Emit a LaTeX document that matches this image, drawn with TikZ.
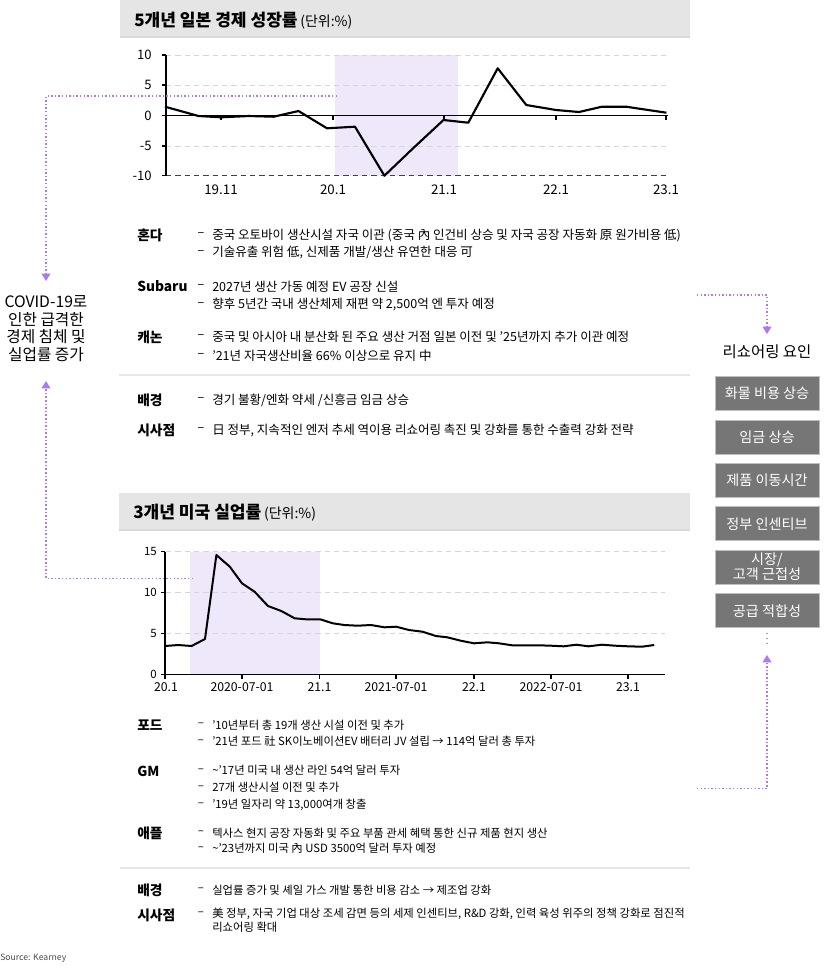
\documentclass[tikz,border=0pt]{standalone}
\usepackage{fontspec}
\setmainfont{Noto Sans CJK KR}
\usetikzlibrary{arrows.meta}
\definecolor{shadeC}{HTML}{EFE7FA}
\definecolor{purp}{HTML}{AD78F2}
\definecolor{titlebg}{HTML}{E5E5E5}
\definecolor{boxC}{HTML}{767676}
\definecolor{gridC}{HTML}{D6D6D6}
\definecolor{sepC}{HTML}{E6E6E6}
\newcommand{\fsJ}{\fontsize{9.4pt}{11pt}\selectfont}
\newcommand{\fsU}{\fontsize{8.5pt}{10pt}\selectfont}
\newcommand{\fsB}{\fontsize{8.5pt}{10pt}\selectfont}
\newcommand{\fsL}{\fontsize{10.3pt}{12pt}\selectfont}
\newcommand{\bl}[4]{\node[dsh,font=#3] (#1d) at (201,#2) {–}; \node[txt,font=#3] (#1) at (212,#2) {#4};}
\begin{document}
\begin{tikzpicture}[x=0.75pt,y=-0.75pt,
  lbl/.style={anchor=west,inner sep=0,font=\fsL\bfseries},
  txt/.style={anchor=west,inner sep=0},
  dsh/.style={anchor=center,inner sep=0},
  pdot/.style={purp,line width=1.1pt,dash pattern=on 1.1pt off 1.6pt,-{Triangle[length=5.5pt,width=6.5pt]}},
  rbox/.style={fill=boxC,draw=gray!50,line width=0.6pt,text=white,minimum width=78pt,minimum height=25.5pt,inner sep=0,align=center,font=\fontsize{10.6pt}{11.5pt}\selectfont},
  grid/.style={gridC,line width=0.6pt,dash pattern=on 4pt off 3pt},
  dataline/.style={black,line width=1.6pt,line join=round},
  ttl/.style={anchor=west,inner sep=0}
]
\useasboundingbox (0,0) rectangle (827,972);
\fill[white] (0,0) rectangle (827,972);

% ===== Top title =====
\fill[titlebg] (120,0) rectangle (690,37);
\draw[gray!30,line width=0.8pt] (120,37) -- (690,37);
\node[ttl] (t1) at (134,21) {{\fontsize{12.8pt}{14pt}\selectfont\bfseries 5개년 일본 경제 성장률}\hspace{2pt}{\fontsize{10.5pt}{12pt}\selectfont(단위:\%)}};

% ===== Top chart =====
\fill[shadeC] (335,55) rectangle (458,175.7);
\foreach \yy in {55,85,146} \draw[grid] (166,\yy) -- (666,\yy);
\draw[black!75,line width=0.7pt,dash pattern=on 4pt off 3pt] (166,175.7) -- (666,175.7);
\draw[black,line width=0.8pt] (166,115.7) -- (668,115.7);
\draw[black,line width=0.9pt] (166,55) -- (166,175.7);
\foreach \yy in {55,85,115.7,146,175.7} \draw[black,line width=0.8pt] (162,\yy) -- (166,\yy);
\foreach \xx in {221,333,444,556,666} \draw[black,line width=0.8pt] (\xx,115.7) -- (\xx,120);
\foreach \yy/\t [count=\i] in {55/10,85/5,115.7/0,146/-5,175.7/-10}
  \node[anchor=east,inner sep=0,font=\fontsize{9.8pt}{11pt}\selectfont] (jy\i) at (152,\yy) {\t};
\foreach \xx/\t [count=\i] in {221/19.11,333/20.1,444/21.1,556/22.1,666/23.1}
  \node[anchor=center,inner sep=0,font=\fontsize{10pt}{12pt}\selectfont] (jx\i) at (\xx,190) {\t};
\draw[dataline] (165,106.7) -- (198.5,116) -- (221,117.3) -- (249,116) -- (273.7,116.7) -- (298.5,111) -- (327,128.3) -- (355,126.7) -- (384.4,175.7) -- (413.7,147.7) -- (443.5,120) -- (468.3,122.7) -- (497.7,68.3) -- (526.3,105) -- (556,110) -- (579,112) -- (602,106.7) -- (626,106.7) -- (666.4,112.7);

% ===== Japan text =====
\node[lbl] (honda) at (137,235) {혼다};
\bl{h1}{235}{\fsJ}{중국 오토바이 생산시설 자국 이관 (중국 內 인건비 상승 및 자국 공장 자동화 原 원가비용 低)}
\bl{h2}{252.7}{\fsJ}{기술유출 위험 低, 신제품 개발/생산 유연한 대응 可}
\node[lbl] (subaru) at (137,286.5) {Subaru};
\bl{s1}{286.5}{\fsJ}{2027년 생산 가동 예정 EV 공장 신설}
\bl{s2}{304.3}{\fsJ}{향후 5년간 국내 생산체제 재편 약 2,500억 엔 투자 예정}
\node[lbl] (canon) at (137,337) {캐논};
\bl{c1}{337}{\fsJ}{중국 및 아시아 내 분산화 된 주요 생산 거점 일본 이전 및 ’25년까지 추가 이관 예정}
\bl{c2}{355.5}{\fsJ}{’21년 자국생산비율 66\% 이상으로 유지 中}
\draw[sepC,line width=1.6pt] (119,375) -- (690,375);
\node[lbl] (jbg) at (137,400) {배경};
\bl{jb1}{400}{\fsJ}{경기 불황/엔화 약세 /신흥금 임금 상승}
\node[lbl] (jsi) at (137,430) {시사점};
\bl{js1}{430}{\fsJ}{日 정부, 지속적인 엔저 추세 역이용 리쇼어링 촉진 및 강화를 통한 수출력 강화 전략}

% ===== US title =====
\fill[titlebg] (119,493) rectangle (690,530);
\draw[gray!30,line width=0.8pt] (119,530) -- (690,530);
\node[ttl] (t2) at (133,513) {{\fontsize{12.8pt}{14pt}\selectfont\bfseries 3개년 미국 실업률}\hspace{2pt}{\fontsize{10.5pt}{12pt}\selectfont(단위:\%)}};

% ===== US chart =====
\fill[shadeC] (190,551.7) rectangle (320,674.7);
\foreach \yy in {551.7,592.7,633.7} \draw[grid] (166,\yy) -- (665,\yy);
\draw[black,line width=0.8pt] (165,674.7) -- (665,674.7);
\draw[black,line width=0.9pt] (165,551.7) -- (165,674.7);
\foreach \yy in {551.7,592.7,633.7,674.7} \draw[black,line width=0.8pt] (161,\yy) -- (165,\yy);
\foreach \xx in {165,242,319.5,396,474,551,628} \draw[black,line width=0.8pt] (\xx,674.7) -- (\xx,679);
\foreach \yy/\t [count=\i] in {551.7/15,592.7/10,633.7/5,674.7/0}
  \node[anchor=east,inner sep=0,font=\fontsize{8.6pt}{10pt}\selectfont] (uy\i) at (157,\yy) {\t};
\foreach \xx/\t [count=\i] in {166/20.1,242/2020-07-01,319.5/21.1,396/2021-07-01,474/22.1,551/2022-07-01,628/23.1}
  \node[anchor=center,inner sep=0,font=\fontsize{9.2pt}{11pt}\selectfont] (ux\i) at (\xx,687.5) {\t};
\draw[dataline,line width=1.5pt] (165,646) -- (178.2,645) -- (191.6,646) -- (205,639) -- (216.4,555) -- (229.8,566.7) -- (242,583.3) -- (254.6,591.7) -- (268,606) -- (281.3,611) -- (294.7,618.3) -- (306,619.3) -- (320.2,619.3) -- (332.8,623.3) -- (344.3,625) -- (357.6,625.7) -- (371,625) -- (384.4,627.3) -- (396.2,626.7) -- (409,630) -- (422.5,631.7) -- (435.9,636) -- (447.3,637.3) -- (460.7,640.7) -- (474,643.3) -- (487.4,642.3) -- (498.9,643.3) -- (512.2,645.3) -- (525.6,645.3) -- (539,645.3) -- (551,645.7) -- (563.7,646.3) -- (576.3,644.7) -- (588.5,646.3) -- (601.9,644.7) -- (615.3,645.7) -- (628.2,646.3) -- (642,646.7) -- (654.2,645);

% ===== US text =====
\node[lbl] (ford) at (137,725) {포드};
\bl{f1}{725}{\fsU}{’10년부터 총 19개 생산 시설 이전 및 추가}
\bl{f2}{741.7}{\fsU}{’21년 포드 社 SK이노베이션EV 배터리 JV 설립 → 114억 달러 총 투자}
\node[lbl] (gm) at (137,771) {GM};
\bl{g1}{770.5}{\fsU}{\textasciitilde’17년 미국 내 생산 라인 54억 달러 투자}
\bl{g2}{787.5}{\fsU}{27개 생산시설 이전 및 추가}
\bl{g3}{805}{\fsU}{’19년 일자리 약 13,000여개 창출}
\node[lbl] (apple) at (137,833) {애플};
\bl{a1}{833}{\fsU}{텍사스 현지 공장 자동화 및 주요 부품 관세 혜택 통한 신규 제품 현지 생산}
\bl{a2}{848.5}{\fsU}{\textasciitilde’23년까지 미국 內 USD 3500억 달러 투자 예정}
\draw[sepC,line width=1.6pt] (120,868) -- (690,868);
\node[lbl] (ubg) at (137,890) {배경};
\bl{ub1}{890}{\fsB}{실업률 증가 및 셰일 가스 개발 통한 비용 감소 → 제조업 강화}
\node[lbl] (usi) at (137,915) {시사점};
\bl{us1}{914}{\fsB}{美 정부, 자국 기업 대상 조세 감면 등의 세제 인센티브, R\&D 강화, 인력 육성 위주의 정책 강화로 점진적}
\node[txt,font=\fsB] (us2) at (212,927.5) {리쇼어링 확대};

% ===== Source =====
\node[anchor=west,inner sep=0,text=black!70,font=\fontsize{6.5pt}{8pt}\selectfont] (src) at (0,958) {Source: Kearney};

% ===== Left label =====
\node[align=center,inner sep=0,font=\fontsize{11.8pt}{13.3pt}\selectfont] (covid) at (46,328.5) {COVID-19로\\인한 급격한\\경제 침체 및\\실업률 증가};
\coordinate (jpShade) at (337,96);
\coordinate (covTop) at (46,281);
\coordinate (usShade) at (193,578.5);
\coordinate (covBot) at (46,381);
\draw[pdot] (jpShade) -| (covTop);
\draw[pdot] (usShade) -| (covBot);

% ===== Right panel =====
\node[inner sep=0,font=\fontsize{11.6pt}{13pt}\selectfont] (rtitle) at (767,352) {리쇼어링 요인};
\node[rbox] (b1) at (767,393.7) {화물 비용 상승};
\node[rbox] (b2) at (767,437) {임금 상승};
\node[rbox] (b3) at (767,480.3) {제품 이동시간};
\node[rbox] (b4) at (767,523.7) {정부 인센티브};
\node[rbox] (b5) at (767,567) {시장/\\고객 근접성};
\node[rbox] (b6) at (767,610.7) {공급 적합성};
\foreach \yy in {633.5,638.5,643.5} \fill[gray!80] (767,\yy) circle (0.9);
\coordinate (rTopStart) at (697,295);
\coordinate (rTopEnd) at (767,334);
\coordinate (rBotStart) at (697,788.5);
\coordinate (rBotEnd) at (767,655);
\draw[pdot] (rTopStart) -| (rTopEnd);
\draw[pdot] (rBotStart) -| (rBotEnd);
\end{tikzpicture}
\end{document}
